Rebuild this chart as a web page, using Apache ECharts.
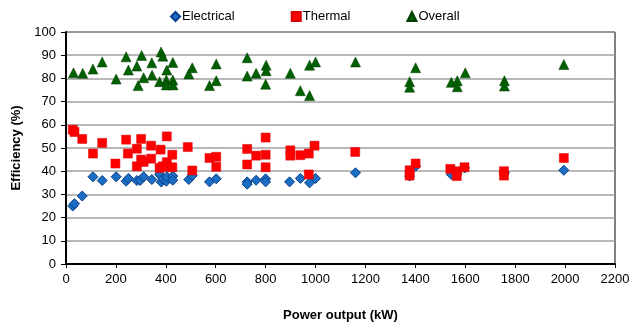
<!DOCTYPE html>
<html>
<head>
<meta charset="utf-8">
<script src="https://cdn.jsdelivr.net/npm/echarts@6/dist/echarts.min.js"></script>
<style>
  html, body { margin: 0; padding: 0; background: #fff; }
  #chart { width: 643px; height: 327px; }
</style>
</head>
<body>
<div id="chart"></div>
<script>
/** [power output kW, efficiency %] */
const electrical = [
  [27, 25], [34, 26], [65, 29.3], [108, 37.6], [145, 36], [201, 37.6], [241, 35.7],
  [250, 36.9], [284, 36], [297, 36], [311, 37.6], [344, 36.4], [375, 38.6], [382, 35.3],
  [388, 36.6], [402, 35.7], [404, 37.6], [428, 37.9], [428, 36.1], [492, 36.4], [506, 38.1],
  [575, 35.4], [602, 36.7], [726, 35.4], [726, 34.4], [762, 36.1], [800, 36.7], [800, 35.4],
  [896, 35.4], [939, 36.9], [976, 35], [1000, 36.9], [1160, 39.3], [1377, 37.9], [1401, 42.1],
  [1544, 38.6], [1566, 39], [1597, 41.4], [1757, 39.3], [1995, 40.4],
];

const thermal = [
  [27, 57.9], [34, 56.9], [65, 53.9], [108, 47.6], [145, 52.2], [198, 43.3], [241, 53.6],
  [248, 47.6], [284, 49.7], [284, 42.1], [301, 53.9], [301, 45], [311, 44], [341, 51],
  [341, 45.4], [375, 41.4], [379, 49.3], [388, 42.1], [404, 55], [404, 43.9], [404, 41.9],
  [426, 47.1], [426, 41.7], [488, 50.4], [506, 40.3], [575, 45.7], [602, 46.2], [602, 41.9],
  [726, 49.6], [726, 42.9], [762, 46.7], [800, 54.5], [800, 47.1], [800, 41.7], [899, 49],
  [899, 46.7], [939, 46.9], [973, 47.6], [996, 51], [973, 38.6], [1159, 48.3], [1377, 40.4],
  [1377, 38.1], [1401, 43.3], [1540, 41], [1566, 40], [1566, 37.9], [1597, 41.7], [1755, 40],
  [1755, 38.1], [1995, 45.7],
];

const overall = [
  [30, 82.4], [67, 82.2], [108, 84], [145, 87.1], [201, 79.7], [241, 89.3], [250, 83.6],
  [284, 85.3], [289, 76.9], [303, 89.9], [311, 80.3], [344, 86.7], [345, 81.4], [375, 78.6],
  [381, 91.4], [388, 89.6], [404, 83.6], [402, 79.3], [402, 77.2], [428, 86.9], [428, 79.3],
  [429, 77.2], [492, 81.9], [506, 84.6], [575, 76.9], [602, 79], [602, 86.2], [726, 88.9],
  [726, 81], [762, 82.2], [802, 85.7], [802, 83.3], [800, 77.5], [899, 82.2], [939, 74.7],
  [976, 72.6], [976, 85.7], [1000, 87.1], [1160, 87.1], [1377, 78.6], [1377, 76.2], [1401, 84.6],
  [1544, 78.3], [1568, 79], [1568, 76.4], [1600, 82.4], [1757, 79], [1757, 76.7], [1995, 86],
];

const seriesNames = ["Electrical", "Thermal", "Overall"];

const font = "'Liberation Sans', Arial, sans-serif";

const chart = echarts.init(document.getElementById("chart"), null, { renderer: "canvas" });

/** shared axis look */
const axisText = { color: "#000", fontSize: 13, fontFamily: font };
const nameText = { color: "#000", fontSize: 13, fontFamily: font, fontWeight: "bold" };

chart.setOption({
  animation: false,
  backgroundColor: "#fff",
  legend: {
    top: 5,
    left: 165,
    itemGap: 56,
    itemWidth: 9,
    itemHeight: 9,
    textStyle: { color: "#000", fontSize: 13, fontFamily: font, padding: [0, 0, 0, -3] },
    data: [
      { name: seriesNames[0], icon: "diamond" },
      { name: seriesNames[1], icon: "rect" },
      { name: seriesNames[2], icon: "triangle" },
    ],
  },
  grid: {
    left: 66,
    right: 28,
    top: 32,
    bottom: 62,
    show: true,
    borderColor: "#000",
    borderWidth: 1,
  },
  xAxis: {
    type: "value",
    min: 0,
    max: 2200,
    interval: 200,
    axisLine: { show: true, onZero: false, lineStyle: { color: "#000", width: 2 } },
    axisTick: { show: true, length: 4, lineStyle: { color: "#000" } },
    splitLine: { show: false },
    axisLabel: { ...axisText, margin: 9, formatter: (v) => String(v) },
    name: "Power output (kW)",
    nameLocation: "middle",
    nameGap: 45,
    nameTextStyle: nameText,
  },
  yAxis: {
    type: "value",
    min: 0,
    max: 100,
    interval: 10,
    axisLine: { show: true, onZero: false, lineStyle: { color: "#000", width: 2 } },
    axisTick: { show: true, length: 5, lineStyle: { color: "#000" } },
    splitLine: { show: true, lineStyle: { color: "#a0a0a0", width: 1.5 } },
    axisLabel: { ...axisText, margin: 10 },
    name: "Efficiency (%)",
    nameLocation: "middle",
    nameGap: 31,
    nameTextStyle: nameText,
  },
  series: [
    {
      name: seriesNames[0],
      type: "scatter",
      symbol: "diamond",
      symbolSize: 10,
      itemStyle: { color: "#1a6fc4", borderColor: "#0b3d86", borderWidth: 1, opacity: 1 },
      data: electrical,
    },
    {
      name: seriesNames[1],
      type: "scatter",
      symbol: "rect",
      symbolSize: 9,
      itemStyle: { color: "#ff0000", borderColor: "#d80000", borderWidth: 0.5, opacity: 1 },
      data: thermal,
    },
    {
      name: seriesNames[2],
      type: "scatter",
      symbol: "triangle",
      symbolSize: [10, 10],
      itemStyle: { color: "#006000", borderColor: "#003c00", borderWidth: 0.5, opacity: 1 },
      data: overall,
    },
  ],
});
</script>
</body>
</html>
